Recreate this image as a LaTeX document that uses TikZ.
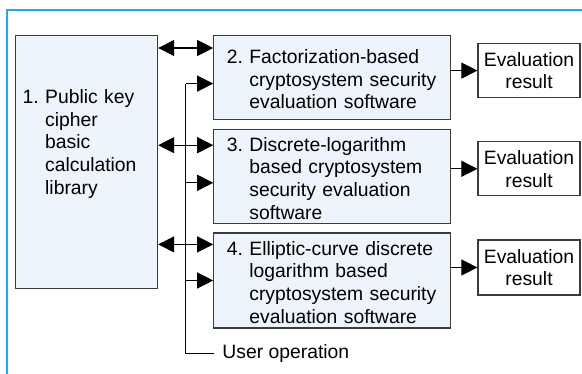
\documentclass[tikz,border=0pt]{standalone}
\usepackage{fontspec}
\setmainfont{Liberation Sans}
\usepackage{xcolor}
\usetikzlibrary{arrows.meta, positioning, calc}

\definecolor{boxfill}{RGB}{238,244,251}
\definecolor{boxline}{RGB}{60,60,60}
\definecolor{framecol}{RGB}{41,168,222}

% numbered text with a hanging indent, set a little low in its box
\newcommand{\numbered}[2]{\raisebox{-3pt}[\height][\depth]{%
  \begin{tabular}{@{}l@{\ }l@{}}#1 & #2\end{tabular}}}

\begin{document}
\begin{tikzpicture}[x=0.75pt,y=-0.75pt,font=\fontsize{14.5}{17}\selectfont,
    >={Triangle[length=12pt,width=12pt]}]
  \tikzstyle{soft}=[draw=boxline, line width=0.9pt, fill=boxfill, inner xsep=9.75pt,
    inner ysep=0pt, text width=158.25pt, align=left]
  \tikzstyle{result}=[draw=boxline, line width=0.9pt, fill=white, inner sep=0pt,
    minimum width=76.5pt, minimum height=40.5pt, align=center]
  \tikzstyle{link}=[line width=0.8pt]

  \useasboundingbox (0,0) rectangle (582,374);
  \draw[framecol, line width=1.5pt] (7,374) -- (7,10) -- (582,10);

  % library and the three evaluation programs
  \node[soft, anchor=north west, inner xsep=5.25pt, text width=96pt,
        text height=51pt, text depth=138.75pt](lib) at (15,35)
    {\begin{tabular}[t]{@{}l@{\ }l@{}}1. & Public key\\ & cipher\\ & basic\\
      & calculation\\ & library\end{tabular}};
  \node[soft, minimum height=63pt](fac)[below right=0pt and 41.25pt of lib.north east]
    {\numbered{2.}{Factorization-based\\ & cryptosystem security\\
      & evaluation software}};
  \node[soft, minimum height=70.5pt](dlog)[below=6.75pt of fac]
    {\numbered{3.}{Discrete-logarithm\\ & based cryptosystem\\
      & security evaluation\\ & software}};
  \node[soft, minimum height=71.25pt](ecc)[below=6pt of dlog]
    {\numbered{4.}{Elliptic-curve discrete\\ & logarithm based\\
      & cryptosystem security\\ & evaluation software}};

  \node[result](res1)[right=19.5pt of fac, yshift=5.25pt]{Evaluation\\result};
  \node[result](res2)[right=19.5pt of dlog, yshift=6pt]{Evaluation\\result};
  \node[result, minimum height=41.25pt](res3)[right=19.5pt of ecc, yshift=9.75pt]{Evaluation\\result};

  \node[anchor=west, inner xsep=6pt](user) at ([xshift=0.75pt,yshift=-18.75pt]ecc.south west)
    {User operation};

  % where the links meet the boxes
  \coordinate (bus) at ($(lib.east)!0.5!(fac.west)$);
  \coordinate (in2) at ([yshift=-9.75pt]fac.north west);
  \coordinate (in3) at ([yshift=-12pt]dlog.north west);
  \coordinate (in4) at ([yshift=-9pt]ecc.north west);
  \coordinate (op2) at ([yshift=-4.5pt]fac.west);
  \coordinate (op3) at ([yshift=-4.5pt]dlog.west);
  \coordinate (op4) at (ecc.west);

  \draw[link] (user.west) -| (op2 -| bus);
  \foreach \k in {2,3,4}{
    \draw[link, <->] (lib.east |- in\k) -- (in\k);
    \draw[link, ->] (op\k -| bus) -- (op\k);
  }
  \draw[link, ->] (res1 -| fac.east) -- (res1);
  \draw[link, ->] (res2 -| dlog.east) -- (res2);
  \draw[link, ->] (res3 -| ecc.east) -- (res3);
\end{tikzpicture}
\end{document}
